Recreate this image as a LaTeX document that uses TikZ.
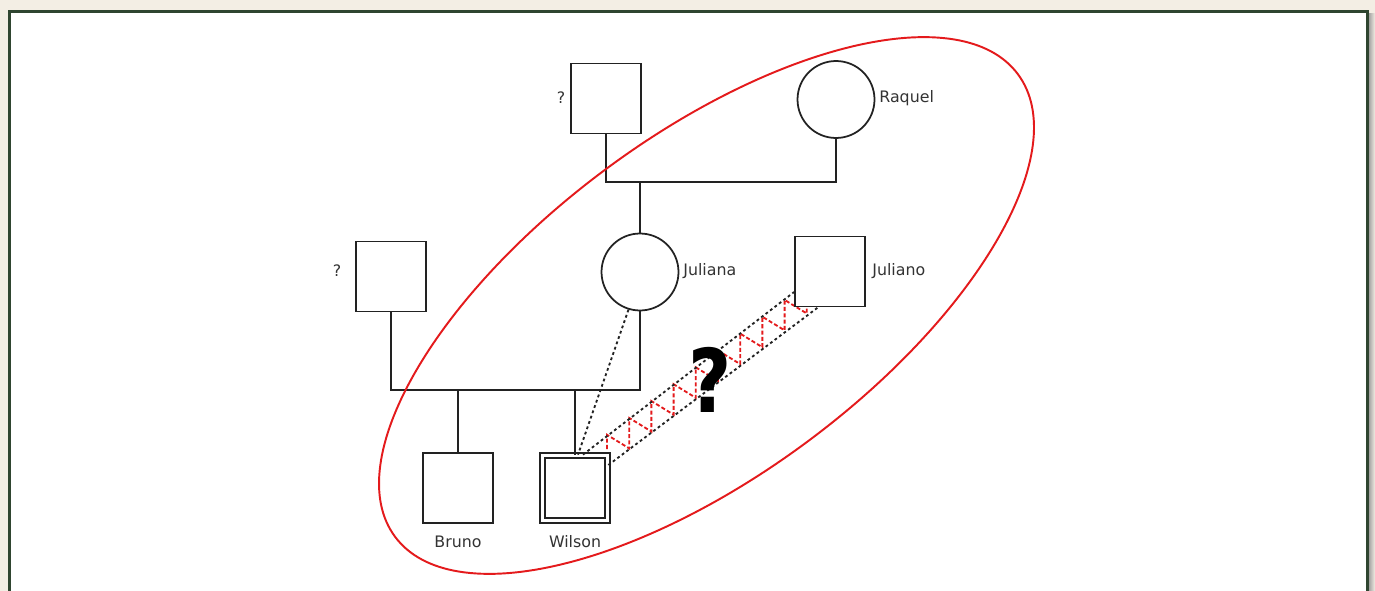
\documentclass[tikz,border=0pt]{standalone}
\usepackage{fontspec}
\setmainfont{DejaVu Sans}
\definecolor{framegreen}{HTML}{2F4530}
\definecolor{paper}{HTML}{F3EEE4}
\definecolor{ink}{HTML}{222222}
\definecolor{txt}{HTML}{333333}
\definecolor{ringred}{HTML}{E41A1C}
\begin{document}
\begin{tikzpicture}[x=0.02cm,y=-0.02cm]
    \tikzstyle{male}=[rectangle,draw=ink,line width=1pt,fill=white,minimum size=1.4cm,inner sep=0pt]
    \tikzstyle{female}=[circle,draw=ink,line width=1pt,fill=white,minimum size=1.54cm,inner sep=0pt]
    \tikzstyle{tag}=[text=txt,inner sep=0pt,font=\fontsize{9}{11}\selectfont]
    \tikzstyle{kin}=[draw=ink,line width=1pt]
    \tikzstyle{hint}=[draw=ink,line width=1.05pt,dash pattern=on 1.6pt off 1.6pt]
    \tikzstyle{zig}=[draw=ringred,line width=1.05pt,dash pattern=on 2.3pt off 1.3pt]
    \useasboundingbox (0,0) rectangle (1375,591);

    % page and frame
    \fill[paper] (0,0) rectangle (1375,591);
    \shade[left color=gray!80,right color=paper] (1368,14) rectangle (1375,591);
    \filldraw[draw=framegreen,fill=white,line width=1.7pt] (9.5,11.3) rectangle (1367.5,600);

    % red zigzag between the two dotted lines
    \draw[zig] (607,449) -- (607,{453-24*0.7594})
        \foreach \k in {1,...,9} {
            -- ({607+22.2*\k},{465-(22.2*\k-3)*0.7596-2})
            -- ({607+22.2*\k},{453-(24+22.2*\k)*0.7594})
        };

    % people
    \node[male]   (dadA)    at (606,98.5)  {};
    \node[female] (raquel)  at (836,99.5)  {};
    \node[female] (juliana) at (640,272)   {};
    \node[male]   (juliano) at (830,271.5) {};
    \node[male]   (dadB)    at (391,276.5) {};
    \node[male]   (bruno)   at (458,488)   {};
    \node[male,line width=1pt,double=white,double distance=1.8pt,minimum size=1.3cm]
                  (wilson)  at (575,488)   {};

    \node[tag] (dadAq)    at (561,98)  {?};
    \node[tag,anchor=west] (raquelL)  at (879,98)  {Raquel};
    \node[tag,anchor=west] (julianaL) at (683,271) {Juliana};
    \node[tag,anchor=west] (julianoL) at (872,271) {Juliano};
    \node[tag] (dadBq)    at (337,271) {?};
    \node[tag] (brunoL)   at (458,541.5) {Bruno};
    \node[tag] (wilsonL)  at (575,541.5) {Wilson};

    % family lines
    \coordinate (topfork) at (640,182);
    \coordinate (lowfork) at (640,390);
    \draw[kin] (dadA.south) |- (topfork) -| (raquel.south);
    \draw[kin] (topfork) -- (juliana.north);
    \draw[kin] (dadB.south) |- (lowfork) -- (juliana.south);
    \draw[kin] (bruno.north) -- (bruno.north |- lowfork);
    \draw[kin] (wilson.north) -- (wilson.north |- lowfork);

    % doubtful links
    \draw[hint] (juliana.253) -- ([xshift=0.06cm]wilson.north);
    \draw[hint] ([xshift=0.16cm]wilson.north) -- ([yshift=-0.41cm]juliano.west);
    \draw[hint] ([yshift=0.46cm]wilson.east) -- ([xshift=-0.24cm]juliano.south);

    \node[font=\fontsize{50}{54}\selectfont\bfseries] (doubt) at (710,380) {\scalebox{0.85}[1]{?}};

    % group
    \draw[ringred,line width=1.1pt,rotate around={36.6:(706.5,305.5)}]
        (706.5,305.5) ellipse [x radius=7.76cm,y radius=3.39cm];

\end{tikzpicture}
\end{document}
